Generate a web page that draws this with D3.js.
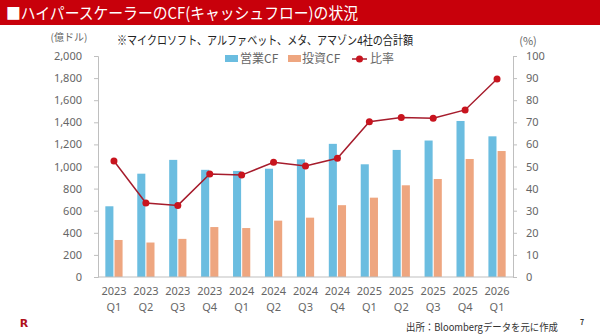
<!DOCTYPE html>
<html>
<head>
<meta charset="utf-8">
<script src="https://cdn.jsdelivr.net/npm/d3@7"></script>
<style>
  body { margin: 0; background: #fff; }
  svg { display: block; font-family: "Noto Sans CJK JP", "Noto Sans", sans-serif; }
</style>
</head>
<body>
<div id="chart"></div>
<script>
// quarters (two-line labels)
var years    = ['2023','2023','2023','2023','2024','2024','2024','2024','2025','2025','2025','2025','2026'];
var quarters = ['Q1','Q2','Q3','Q4','Q1','Q2','Q3','Q4','Q1','Q2','Q3','Q4','Q1'];

// 億ドル
var opCF  = [640, 935, 1060, 970, 960, 980, 1065, 1205, 1020, 1150, 1235, 1412, 1273];
var invCF = [335, 312, 345, 452, 443, 510, 537, 650, 718, 830, 887, 1068, 1140];
// %
var ratio = [52.5, 33.5, 32.4, 46.6, 46.1, 51.9, 50.2, 53.7, 70.3, 72.2, 71.8, 75.6, 89.6];

var leftTicks  = [0, 200, 400, 600, 800, 1000, 1200, 1400, 1600, 1800, 2000];
var rightTicks = [0, 10, 20, 30, 40, 50, 60, 70, 80, 90, 100];

var width = 600, height = 336;
var plot = { left: 98, right: 513, top: 56, bottom: 277 };

var blue = '#6BBDE0', orange = '#EEA680', red = '#C8141E', lineRed = '#A61C2C';
var grey = '#666666';

var svg = d3.select('#chart').append('svg')
    .attr('width', width)
    .attr('height', height);

// title band
svg.append('rect')
    .attr('x', 0).attr('y', 0)
    .attr('width', width).attr('height', 25)
    .attr('fill', '#C8000B');
svg.append('text')
    .attr('x', 6).attr('y', 19)
    .attr('fill', '#fff')
    .style('font-size', '16px')
    .attr('textLength', 352)
    .attr('lengthAdjust', 'spacingAndGlyphs')
    .text('■ハイパースケーラーのCF(キャッシュフロー)の状況');

svg.append('text')
    .attr('x', 117).attr('y', 45)
    .attr('fill', '#222')
    .style('font-size', '12px')
    .attr('textLength', 296)
    .attr('lengthAdjust', 'spacingAndGlyphs')
    .text('※マイクロソフト、アルファベット、メタ、アマゾン4社の合計額');

var idx = d3.range(years.length);

var xScale = d3.scaleBand()
    .domain(idx)
    .range([plot.left, plot.right])
    .paddingInner(0.46)
    .paddingOuter(0.23);

var xSub = d3.scaleBand()
    .domain([0, 1])
    .range([0, xScale.bandwidth()])
    .paddingInner(0.12);

var yLeft = d3.scaleLinear().domain([0, 2000]).range([plot.bottom, plot.top]);
var yRight = d3.scaleLinear().domain([0, 100]).range([plot.bottom, plot.top]);

// left axis
var gL = svg.append('g')
    .attr('transform', 'translate(' + plot.left + ',0)')
    .call(d3.axisLeft(yLeft).tickValues(leftTicks).tickSize(4).tickPadding(12)
        .tickFormat(d3.format(',')));
// right axis
var gR = svg.append('g')
    .attr('transform', 'translate(' + plot.right + ',0)')
    .call(d3.axisRight(yRight).tickValues(rightTicks).tickSize(4).tickPadding(9));

[gL, gR].forEach(function(g) {
    g.select('.domain').attr('stroke', '#bfbfbf');
    g.selectAll('.tick line').attr('stroke', '#bfbfbf');
    g.selectAll('.tick text')
        .attr('fill', grey)
        .style('font-family', '"Noto Sans", sans-serif')
        .style('font-size', '11px');
});

svg.append('text')
    .attr('x', 69).attr('y', 41)
    .attr('text-anchor', 'middle')
    .attr('fill', grey)
    .style('font-size', '10px')
    .text('(億ドル)');
svg.append('text')
    .attr('x', 528).attr('y', 45)
    .attr('text-anchor', 'middle')
    .attr('fill', grey)
    .style('font-size', '11px')
    .text('(%)');

// bars
var groups = svg.append('g').selectAll('g')
    .data(idx)
    .enter().append('g')
    .attr('transform', function(i) { return 'translate(' + xScale(i) + ',0)'; });

groups.append('rect')
    .attr('x', xSub(0))
    .attr('width', xSub.bandwidth())
    .attr('y', function(i) { return yLeft(opCF[i]); })
    .attr('height', function(i) { return plot.bottom - yLeft(opCF[i]); })
    .attr('fill', blue);

groups.append('rect')
    .attr('x', xSub(1))
    .attr('width', xSub.bandwidth())
    .attr('y', function(i) { return yLeft(invCF[i]); })
    .attr('height', function(i) { return plot.bottom - yLeft(invCF[i]); })
    .attr('fill', orange);

// bottom axis line
svg.append('line')
    .attr('x1', plot.left).attr('x2', plot.right)
    .attr('y1', plot.bottom).attr('y2', plot.bottom)
    .attr('stroke', '#bfbfbf');

// x labels
var xl = svg.append('g').selectAll('text')
    .data(idx)
    .enter().append('text')
    .attr('text-anchor', 'middle')
    .attr('fill', grey)
    .style('font-family', '"Noto Sans", sans-serif')
    .style('font-size', '11px')
    .attr('x', function(i) { return xScale(i) + xScale.bandwidth() / 2; });
xl.append('tspan').attr('y', 295).text(function(i) { return years[i]; });
xl.append('tspan')
    .attr('x', function(i) { return xScale(i) + xScale.bandwidth() / 2; })
    .attr('y', 311).text(function(i) { return quarters[i]; });

// ratio line
var line = d3.line()
    .x(function(d, i) { return xScale(i) + xScale.bandwidth() / 2; })
    .y(function(d) { return yRight(d); });

svg.append('path')
    .datum(ratio)
    .attr('d', line)
    .attr('fill', 'none')
    .attr('stroke', lineRed)
    .attr('stroke-width', 1.5);

svg.append('g').selectAll('circle')
    .data(ratio)
    .enter().append('circle')
    .attr('cx', function(d, i) { return xScale(i) + xScale.bandwidth() / 2; })
    .attr('cy', function(d) { return yRight(d); })
    .attr('r', 3.5)
    .attr('fill', red);

// legend
var leg = svg.append('g').style('font-size', '12px');
leg.append('rect').attr('x', 225).attr('y', 55).attr('width', 13).attr('height', 7).attr('fill', blue);
leg.append('text').attr('x', 240).attr('y', 63).attr('fill', grey).text('営業CF');
leg.append('rect').attr('x', 288).attr('y', 55).attr('width', 13).attr('height', 7).attr('fill', orange);
leg.append('text').attr('x', 302).attr('y', 63).attr('fill', grey).text('投資CF');
leg.append('line').attr('x1', 352).attr('x2', 367).attr('y1', 59).attr('y2', 59)
    .attr('stroke', lineRed).attr('stroke-width', 1.5);
leg.append('circle').attr('cx', 359.5).attr('cy', 59).attr('r', 3.5).attr('fill', red);
leg.append('text').attr('x', 370).attr('y', 63).attr('fill', grey).text('比率');

// footer
svg.append('text')
    .attr('x', 406).attr('y', 331)
    .attr('fill', '#333')
    .style('font-size', '10.5px')
    .attr('textLength', 152)
    .attr('lengthAdjust', 'spacingAndGlyphs')
    .text('出所：Bloombergデータを元に作成');
svg.append('text')
    .attr('x', 580).attr('y', 325)
    .attr('fill', '#333')
    .style('font-size', '7px')
    .style('font-weight', 'bold')
    .text('7');
svg.append('text')
    .attr('x', 24).attr('y', 327)
    .attr('text-anchor', 'middle')
    .attr('fill', '#B0101C')
    .style('font-family', '"DejaVu Sans", sans-serif')
    .style('font-size', '11px')
    .style('font-weight', 'bold')
    .text('R');
</script>
</body>
</html>
